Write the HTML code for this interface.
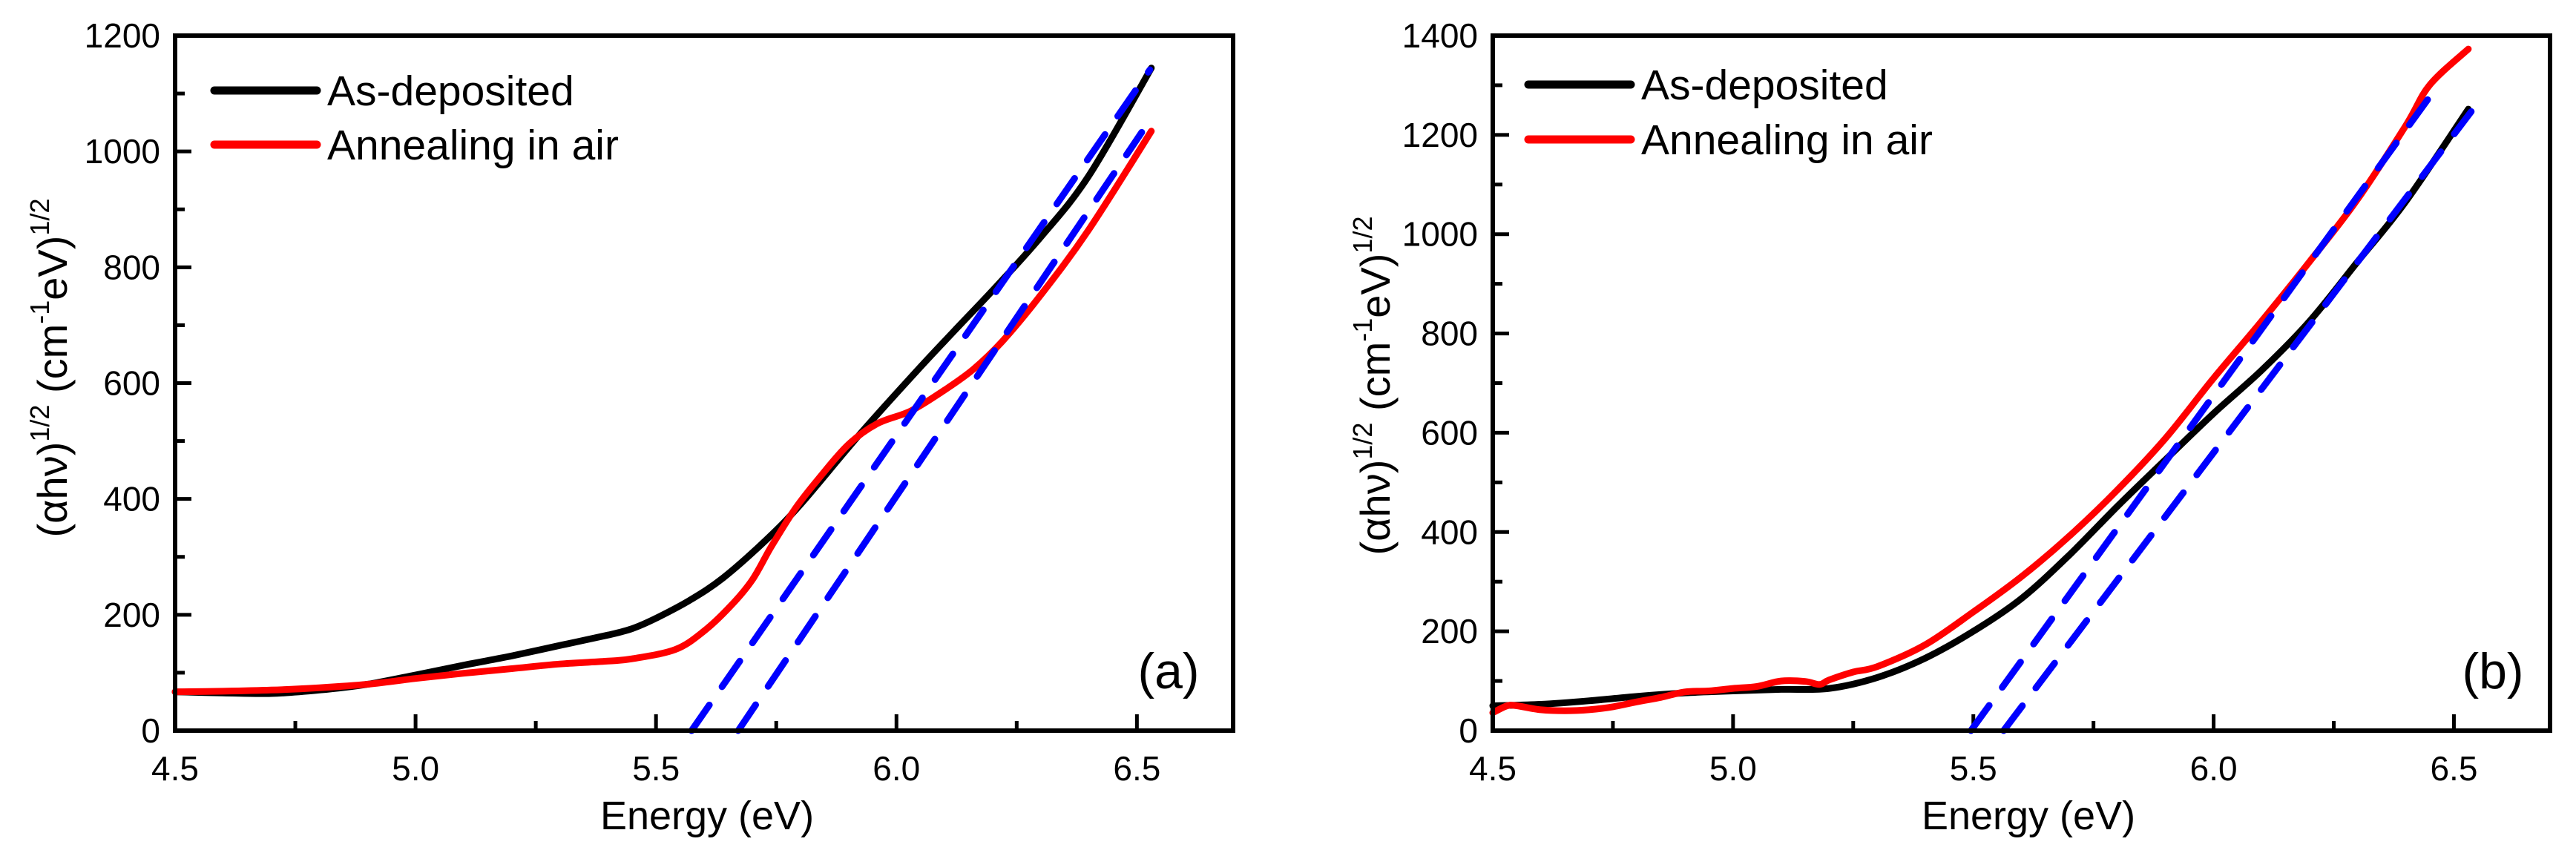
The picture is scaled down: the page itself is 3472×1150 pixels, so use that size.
<!DOCTYPE html>
<html><head><meta charset="utf-8">
<style>
html,body{margin:0;padding:0;background:#fff;}
svg{display:block;font-family:"Liberation Sans",Arial,sans-serif;}
</style></head>
<body>
<svg id="chart" width="3472" height="1150" viewBox="0 0 3472 1150" xmlns="http://www.w3.org/2000/svg">
<g id="panelA"></g>
<g id="panelB"></g>
</svg>
<script>
// ---- Panel (a) data ----
const aBlackE = [4.5,4.6,4.7,4.8,4.9,5.0,5.1,5.2,5.3,5.4,5.45,5.5,5.57,5.64,5.73,5.8,5.92,6.04,6.12,6.2,6.3,6.4,6.53];
const aBlackV = [67,65,64,70,80,96,113,129,147,165,176,194,225,264,330,390,508,619,690,760,852,958,1144];
const aRedE = [4.5,4.6,4.7,4.8,4.9,5.0,5.1,5.2,5.3,5.4,5.45,5.54,5.6,5.655,5.7,5.74,5.79,5.84,5.9,5.96,6.03,6.1,6.16,6.22,6.3,6.4,6.53];
const aRedV = [67,68,70,74,80,90,99,107,115,120,124,140,172,215,260,318,384,437,494,530,552,588,624,672,752,865,1035];
const aFit1 = [[5.574,0],[6.527,1141]];
const aFit2 = [[5.671,0],[6.51,1033]];
const aYTicks = [0,200,400,600,800,1000,1200];
const aXTicks = ["4.5","5.0","5.5","6.0","6.5"];
// ---- Panel (b) data ----
const bBlackE = [4.5,4.6,4.7,4.8,4.9,5.0,5.1,5.2,5.3,5.4,5.5,5.6,5.7,5.8,5.9,6.0,6.1,6.2,6.3,6.4,6.53];
const bBlackV = [50,53,60,69,76,80,83,85,107,146,200,266,354,452,546,639,726,825,945,1066,1252];
const bRedE = [4.5,4.53,4.55,4.6,4.65,4.7,4.75,4.8,4.85,4.9,4.95,5.0,5.05,5.1,5.15,5.18,5.2,5.25,5.3,5.4,5.5,5.6,5.7,5.8,5.9,6.0,6.1,6.2,6.3,6.4,6.45,6.53];
const bRedV = [36,50,50,42,40,42,48,58,67,78,80,85,89,100,99,93,102,118,129,173,239,310,392,485,589,710,825,945,1071,1219,1301,1373];
const bFit1 = [[5.495,0],[6.464,1296]];
const bFit2 = [[5.563,0],[6.536,1247]];
const bYTicks = [0,200,400,600,800,1000,1200,1400];
const bXTicks = ["4.5","5.0","5.5","6.0","6.5"];

const NS = "http://www.w3.org/2000/svg";
function mk(parent, tag, attrs){
  const e = document.createElementNS(NS, tag);
  for (const k in attrs) e.setAttribute(k, attrs[k]);
  parent.appendChild(e);
  return e;
}
function smooth(pts){
  let d = 'M'+pts[0][0].toFixed(1)+','+pts[0][1].toFixed(1);
  for (let i=0;i<pts.length-1;i++){
    const p0=pts[Math.max(0,i-1)], p1=pts[i], p2=pts[i+1], p3=pts[Math.min(pts.length-1,i+2)];
    const c1=[p1[0]+(p2[0]-p0[0])/6, p1[1]+(p2[1]-p0[1])/6];
    const c2=[p2[0]-(p3[0]-p1[0])/6, p2[1]-(p3[1]-p1[1])/6];
    d+=' C'+c1[0].toFixed(1)+','+c1[1].toFixed(1)+' '+c2[0].toFixed(1)+','+c2[1].toFixed(1)+' '+p2[0].toFixed(1)+','+p2[1].toFixed(1);
  }
  return d;
}
function drawPanel(g, cfg){
  const X0=cfg.x0, X1=cfg.x1, Y0=48, Y1=985;
  const xs = e => X0 + (e-4.5)/(6.7-4.5)*(X1-X0);
  const ys = v => Y1 - v/cfg.ymax*(Y1-Y0);
  for (let v=0; v<=cfg.ymax; v+=100){
    const major = v%200===0;
    const t = mk(g,'line',{x1:X0,x2:X0+(major?22:13),y1:ys(v),y2:ys(v),stroke:'#000','stroke-width':5});
    
    
  }
  cfg.yt.forEach(v=>{
    const t = mk(g,'text',{x:X0-20,y:ys(v)+16,'text-anchor':'end','font-size':46,fill:'#000'});
    t.textContent = v;
    
    
  });
  for (let e=4.5; e<6.71; e+=0.25){
    const major = Math.abs((e*2)-Math.round(e*2))<1e-6;
    const t = mk(g,'line',{x1:xs(e),x2:xs(e),y1:Y1,y2:Y1-(major?22:13),stroke:'#000','stroke-width':5});
    
    
  }
  cfg.xt.forEach(s=>{
    const t = mk(g,'text',{x:xs(parseFloat(s)),y:1052,'text-anchor':'middle','font-size':46,fill:'#000'});
    t.textContent = s;
    
    
  });
  const path = (E,V) => smooth(E.map((e,i)=>[xs(e),ys(V[i])]));
  const cb = mk(g,'path',{d:path(cfg.bE,cfg.bV),fill:'none',stroke:'#000','stroke-width':9,'stroke-linejoin':'round','stroke-linecap':'round'});
  
  
  const cr = mk(g,'path',{d:path(cfg.rE,cfg.rV),fill:'none',stroke:'#ff0000','stroke-width':9,'stroke-linejoin':'round','stroke-linecap':'round'});
  
  
  [cfg.f1,cfg.f2].forEach((f,i)=>{
    const l = mk(g,'line',{x1:xs(f[0][0]),y1:ys(f[0][1]),x2:xs(f[1][0]),y2:ys(f[1][1]),stroke:'#0000ff','stroke-width':9,'stroke-dasharray':'42 30','stroke-linecap':'round'});
    
    
  });
  const fr = mk(g,'rect',{x:X0,y:Y0,width:X1-X0,height:Y1-Y0,fill:'none',stroke:'#000','stroke-width':6});
  
  
  const lx = cfg.lx;
  [['#000','As-deposited',cfg.ly1],['#ff0000','Annealing in air',cfg.ly2]].forEach((d,i)=>{
    const ln = mk(g,'line',{x1:lx,x2:lx+138,y1:d[2],y2:d[2],stroke:d[0],'stroke-width':11,'stroke-linecap':'round'});
    
    
    const tx = mk(g,'text',{x:lx+152,y:d[2]+20,'font-size':57,fill:'#000'});
    tx.textContent = d[1];
    
    
  });
  const pl = mk(g,'text',{x:cfg.plx,y:928,'text-anchor':'middle','font-size':68,fill:'#000'});
  pl.textContent = cfg.label;
  
  
  const xt = mk(g,'text',{x:cfg.xtx,y:1118,'text-anchor':'middle','font-size':54,fill:'#000'});
  xt.textContent = 'Energy (eV)';
  
  
  const yt = mk(g,'text',{transform:'translate('+(cfg.ytx+20)+','+cfg.yty+') rotate(-90)','text-anchor':'middle','font-size':56,fill:'#000'});
  yt.innerHTML = '(αhν)<tspan font-size="36" dy="-24">1/2</tspan><tspan dy="24"> (cm</tspan><tspan font-size="36" dy="-24">-1</tspan><tspan dy="24">eV)</tspan><tspan font-size="36" dy="-24">1/2</tspan>';
  
  
}
drawPanel(document.getElementById('panelA'),{x0:236,x1:1662,ymax:1200,yt:aYTicks,xt:aXTicks,bE:aBlackE,bV:aBlackV,rE:aRedE,rV:aRedV,f1:aFit1,f2:aFit2,lx:289,ly1:122,ly2:195,plx:1575,label:'(a)',xtx:953,ytx:70,yty:496});
drawPanel(document.getElementById('panelB'),{x0:2012,x1:3437,ymax:1400,yt:bYTicks,xt:bXTicks,bE:bBlackE,bV:bBlackV,rE:bRedE,rV:bRedV,f1:bFit1,f2:bFit2,lx:2060,ly1:114,ly2:188,plx:3360,label:'(b)',xtx:2734,ytx:1853,yty:520});
</script>
</body></html>
